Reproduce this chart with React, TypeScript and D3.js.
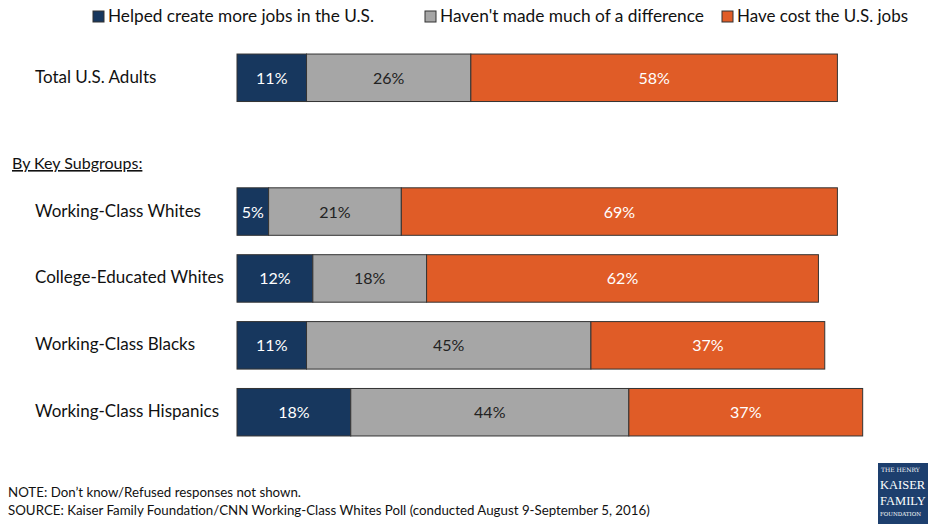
import React from "react";
import * as d3 from "d3";

const categories = [
  "Total U.S. Adults",
  "Working-Class Whites",
  "College-Educated Whites",
  "Working-Class Blacks",
  "Working-Class Hispanics",
];
const slots = ["Total U.S. Adults", "gap", "Working-Class Whites", "College-Educated Whites", "Working-Class Blacks", "Working-Class Hispanics"];
const helped = [11, 5, 12, 11, 18];
const noDiff = [26, 21, 18, 45, 44];
const cost = [58, 69, 62, 37, 37];
const seriesNames = [
  "Helped create more jobs in the U.S.",
  "Haven't made much of a difference",
  "Have cost the U.S. jobs",
];
const seriesColors = ["#17375e", "#a6a6a6", "#e05c27"];
const textColors = ["#ffffff", "#222222", "#ffffff"];

export default function App() {
  const W = 928, H = 525;
  const font = "Lato, 'Open Sans', sans-serif";
  const x = d3.scaleLinear().domain([0, 100]).range([237, 237 + 632]);
  const y = d3.scaleBand().domain(slots).range([44, 446]).paddingInner(0.29).paddingOuter(0.15);
  const series = [helped, noDiff, cost];
  const legendX = [93, 425, 722];
  return (
    <svg width={W} height={H} style={{ position: "absolute", left: 0, top: 0, background: "#fff" }} fontFamily={font}>
      {seriesNames.map((n, i) => (
        <g key={n}>
          <rect x={legendX[i]} y={11} width={11} height={11} fill={seriesColors[i]} stroke="#333" strokeWidth={1} />
          <text x={legendX[i] + 15} y={22} fontSize={17} fill="#111" textLength={i === 0 ? 266 : i === 1 ? 264 : 171} lengthAdjust="spacingAndGlyphs">{n}</text>
        </g>
      ))}
      {categories.map((c, ci) => {
        let acc = 0;
        const yy = y(c)!;
        const bh = y.bandwidth();
        return (
          <g key={c}>
            <text x={35} y={yy + bh / 2 + 5} fontSize={17} fill="#111">{c}</text>
            {series.map((s, si) => {
              const x0 = x(acc);
              acc += s[ci];
              const x1 = x(acc);
              return (
                <g key={si}>
                  <rect x={x0} y={yy} width={x1 - x0} height={bh} fill={seriesColors[si]} stroke="#333" strokeWidth={1} />
                  <text x={(x0 + x1) / 2} y={yy + bh / 2 + 6} textAnchor="middle" fontSize={16} fill={textColors[si]}>{s[ci]}%</text>
                </g>
              );
            })}
          </g>
        );
      })}
      <text x={12} y={169} fontSize={16} fill="#111" textDecoration="underline">By Key Subgroups:</text>
      <text x={8} y={497} fontSize={13.3} fill="#111">NOTE: Don’t know/Refused responses not shown.</text>
      <text x={8} y={515} fontSize={13.3} fill="#111">SOURCE: Kaiser Family Foundation/CNN Working-Class Whites Poll (conducted August 9-September 5, 2016)</text>
      <g>
        <rect x={878} y={463} width={52} height={61} fill="#1d3f6e" />
        <text x={881} y={472} fontSize={6} fill="#fff" fontFamily="'DejaVu Serif', serif">THE HENRY</text>
        <text x={880} y={489} fontSize={12.5} fill="#fff" fontFamily="'Liberation Serif', serif">KAISER</text>
        <text x={880} y={505} fontSize={12.5} fill="#fff" fontFamily="'Liberation Serif', serif">FAMILY</text>
        <text x={880} y={516} fontSize={5.5} fill="#fff" fontFamily="'DejaVu Serif', serif">FOUNDATION</text>
      </g>
    </svg>
  );
}
